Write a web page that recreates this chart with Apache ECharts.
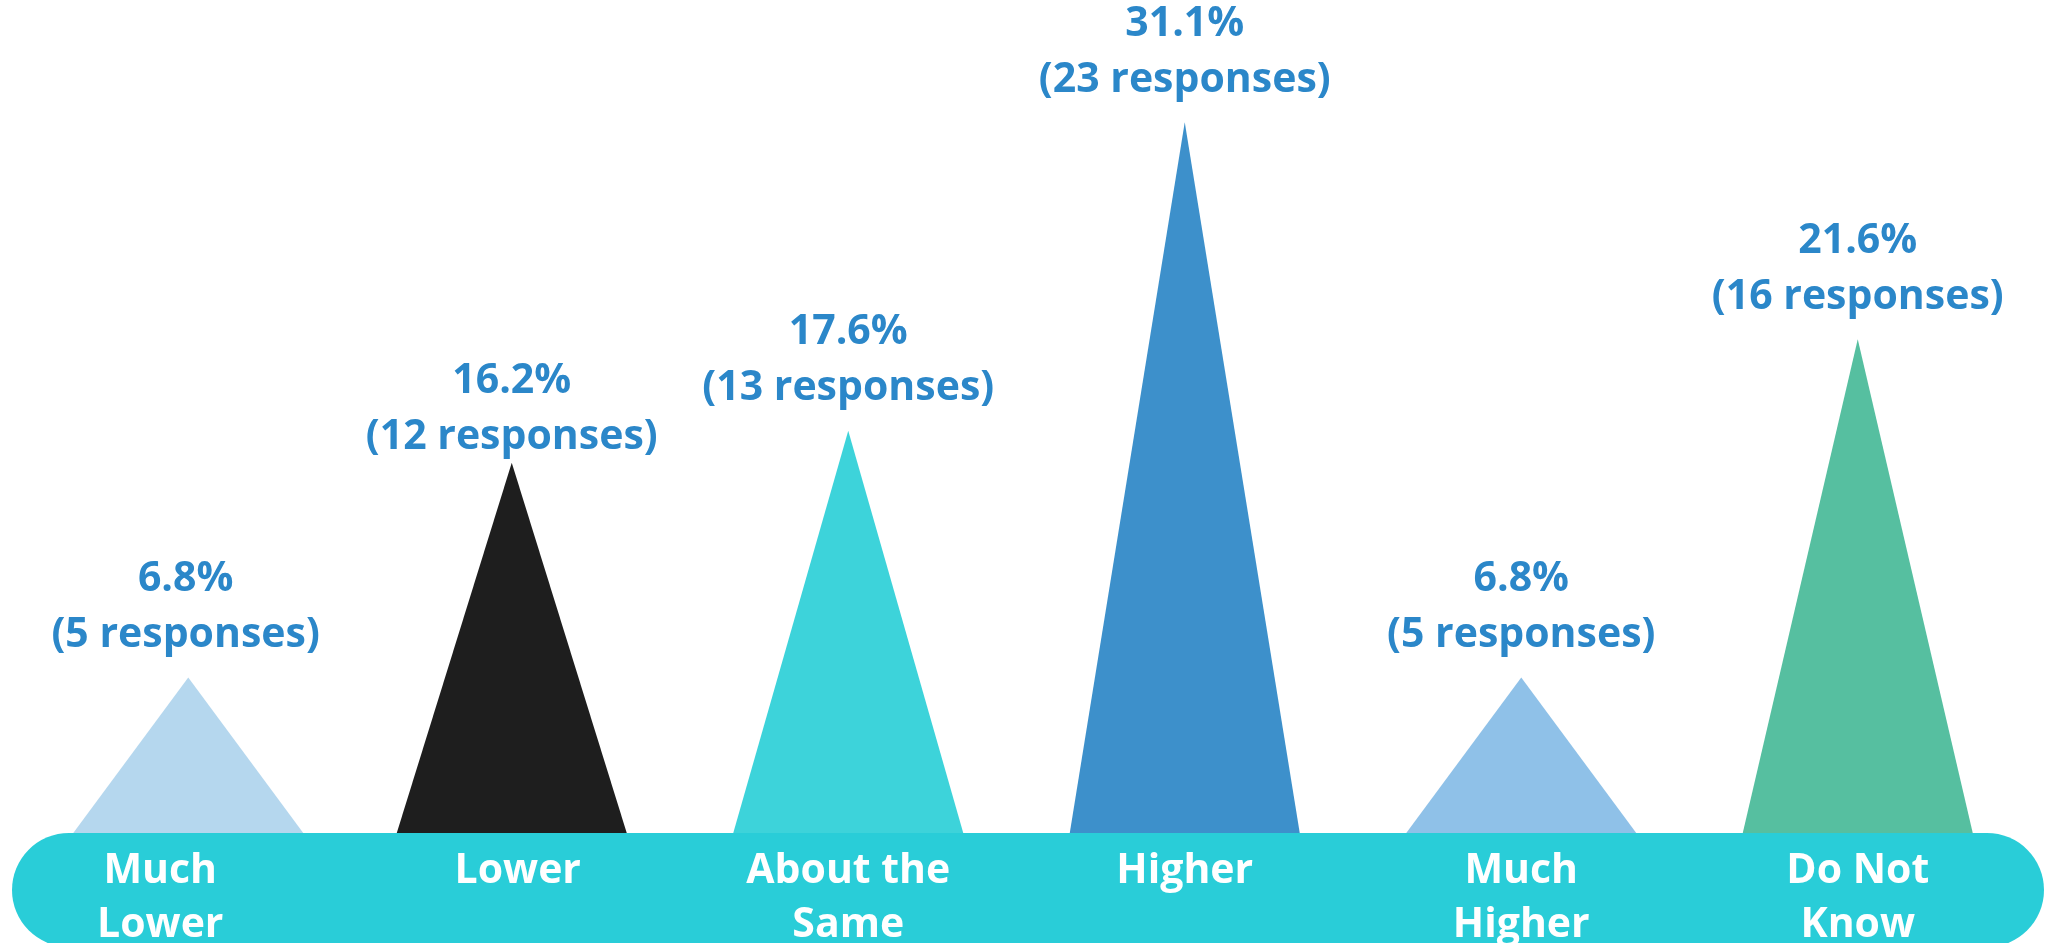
<!DOCTYPE html>
<html>
<head>
<meta charset="utf-8">
<script src="https://cdn.jsdelivr.net/npm/echarts@6/dist/echarts.min.js"></script>
<style>
  html, body { margin: 0; padding: 0; background: #ffffff; }
  #chart { width: 2046px; height: 943px; }
</style>
</head>
<body>
<div id="chart"></div>
<script>
// Survey answers: share of responses per option
const categories = ['Much\nLower', 'Lower', 'About the\nSame', 'Higher', 'Much\nHigher', 'Do Not\nKnow'];
const percentages = [6.8, 16.2, 17.6, 31.1, 6.8, 21.6];
const responses = [5, 12, 13, 23, 5, 16];
const colors = ['#b5d7ee', '#1e1e1e', '#3dd3da', '#3d90cb', '#8fc1e8', '#56bfa0'];

// small per-item nudges of the pyramids and their captions
const symbolShift = [13, 0, 0, 0, 0, 0];
const categoryLabelPadding = [[0, 30, 0, 0], [0, 0, 0, 12], 0, 0, 0, 0];
const valueLabelDistance = [14, -3, 14, 14, 14, 14];

const chart = echarts.init(document.getElementById('chart'), null, { renderer: 'canvas' });

const font = '"Open Sans", Lato, sans-serif';

chart.setOption({
  animation: false,
  backgroundColor: '#ffffff',
  grid: { left: 7, right: 20, top: 33, bottom: 110, outerBoundsMode: 'none', containLabel: false },
  graphic: [{
    type: 'rect',
    z: -10,
    shape: { x: 12, y: 833, width: 2032, height: 114, r: 57 },
    style: { fill: '#29cdd8' }
  }],
  xAxis: {
    type: 'category',
    data: categories.map((c, i) => ({
      value: c,
      textStyle: { padding: categoryLabelPadding[i] }
    })),
    axisLine: { show: false },
    axisTick: { show: false },
    axisLabel: {
      color: '#ffffff',
      fontFamily: font,
      fontWeight: 'bold',
      fontSize: 41,
      lineHeight: 54,
      margin: 11,
      interval: 0
    }
  },
  yAxis: {
    type: 'value',
    min: 0,
    max: 35,
    show: false,
    splitLine: { show: false }
  },
  series: [{
    type: 'pictorialBar',
    symbol: 'triangle',
    barWidth: 230,
    symbolSize: ['100%', '100%'],
    z: 5,
    data: percentages.map((v, i) => ({
      value: v,
      symbolOffset: [symbolShift[i], 0],
      itemStyle: { color: colors[i] },
      label: { distance: valueLabelDistance[i], offset: [symbolShift[i] * 0.8, 0] }
    })),
    label: {
      show: true,
      position: 'top',
      color: '#2b87c9',
      fontFamily: font,
      fontWeight: 'bold',
      fontSize: 41,
      lineHeight: 56,
      formatter: (p) => p.value.toFixed(1) + '%\n(' + responses[p.dataIndex] + ' responses)'
    }
  }]
});
</script>
</body>
</html>
